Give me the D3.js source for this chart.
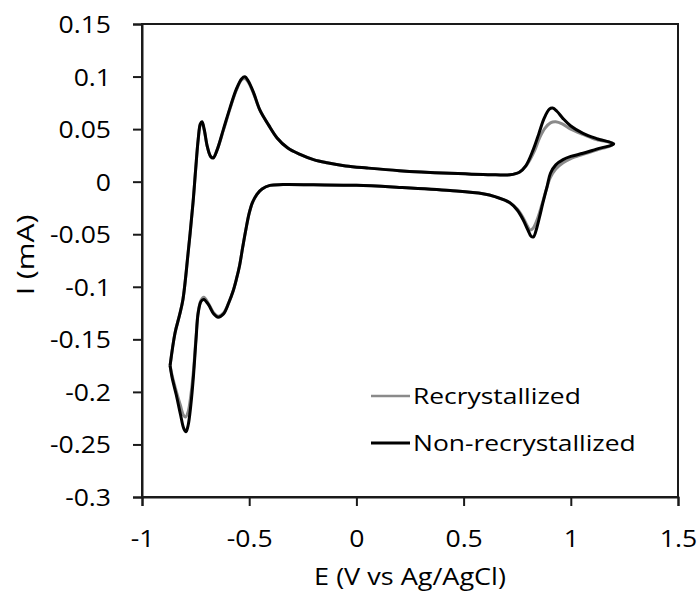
<!DOCTYPE html>
<html>
<head>
<meta charset="utf-8">
<script src="https://cdn.jsdelivr.net/npm/d3@7"></script>
<style>
  html, body { margin: 0; padding: 0; background: #fff; }
  svg { display: block; }
  text { font-family: "Open Sans", sans-serif; fill: #000; }
</style>
</head>
<body>
<svg id="chart" width="697" height="593"></svg>
<script>
// ---- data (E in V vs Ag/AgCl, I in mA), traced as closed CV loops ----
const seriesNames = ["Recrystallized", "Non-recrystallized"];
const xTicks = [-1, -0.5, 0, 0.5, 1, 1.5];
const yTicks = [0.15, 0.1, 0.05, 0, -0.05, -0.1, -0.15, -0.2, -0.25, -0.3];

const nonRecE = [
  -0.869, -0.846, -0.825, -0.809, -0.785, -0.762, -0.750, -0.738, -0.728, -0.720,
  -0.710, -0.695, -0.680, -0.668, -0.650, -0.620, -0.590, -0.560, -0.535, -0.520,
  -0.505, -0.480, -0.450, -0.410, -0.370, -0.320, -0.263, -0.200, -0.137, -0.050,
  0.050, 0.200, 0.437, 0.650, 0.716, 0.760, 0.790, 0.824, 0.850, 0.875,
  0.900, 0.915, 0.935, 0.964, 1.000, 1.057, 1.120, 1.200,
  1.120, 1.057, 1.000, 0.964, 0.930, 0.905, 0.889, 0.870, 0.856, 0.840,
  0.826, 0.815, 0.800, 0.777, 0.750, 0.716, 0.650, 0.590, 0.437, 0.200,
  0.000, -0.200, -0.342, -0.403, -0.440, -0.464, -0.485, -0.500, -0.515, -0.530,
  -0.545, -0.560, -0.575, -0.595, -0.620, -0.645, -0.665, -0.690, -0.712, -0.725,
  -0.738, -0.748, -0.760, -0.772, -0.785, -0.795, -0.805, -0.820, -0.840, -0.860,
  -0.869
];
const nonRecI = [
  -0.175, -0.144, -0.127, -0.112, -0.068, -0.020, 0.011, 0.040, 0.055, 0.057,
  0.050, 0.033, 0.024, 0.0225, 0.030, 0.050, 0.070, 0.088, 0.098, 0.0998,
  0.096, 0.085, 0.068, 0.054, 0.0416, 0.032, 0.026, 0.021, 0.018, 0.015,
  0.013, 0.0105, 0.008, 0.0065, 0.0066, 0.009, 0.015, 0.030, 0.045, 0.060,
  0.069, 0.070, 0.067, 0.060, 0.053, 0.046, 0.041, 0.036,
  0.031, 0.027, 0.024, 0.021, 0.016, 0.008, -0.005, -0.020, -0.032, -0.045,
  -0.0525, -0.052, -0.046, -0.036, -0.027, -0.020, -0.0145, -0.0115, -0.0085, -0.0055,
  -0.0035, -0.003, -0.0028, -0.0035, -0.007, -0.012, -0.020, -0.030, -0.045, -0.062,
  -0.080, -0.093, -0.104, -0.115, -0.126, -0.129, -0.126, -0.117, -0.112, -0.114,
  -0.125, -0.150, -0.185, -0.212, -0.232, -0.238, -0.235, -0.222, -0.203, -0.186,
  -0.175
];

const recE = [
  -0.869, -0.846, -0.825, -0.809, -0.785, -0.762, -0.750, -0.738, -0.728, -0.720,
  -0.710, -0.695, -0.680, -0.668, -0.650, -0.620, -0.590, -0.560, -0.535, -0.520,
  -0.505, -0.480, -0.450, -0.410, -0.370, -0.320, -0.263, -0.200, -0.137, -0.050,
  0.050, 0.200, 0.437, 0.650, 0.716, 0.760, 0.795, 0.830, 0.855, 0.880,
  0.905, 0.930, 0.960, 1.000, 1.057, 1.120, 1.200,
  1.120, 1.057, 1.000, 0.964, 0.930, 0.905, 0.885, 0.865, 0.845, 0.825,
  0.810, 0.797, 0.777, 0.750, 0.716, 0.650, 0.590, 0.437, 0.200,
  0.000, -0.200, -0.342, -0.403, -0.440, -0.464, -0.485, -0.500, -0.515, -0.530,
  -0.545, -0.560, -0.575, -0.595, -0.620, -0.645, -0.665, -0.690, -0.712, -0.725,
  -0.738, -0.748, -0.760, -0.772, -0.785, -0.797, -0.807, -0.822, -0.842, -0.860,
  -0.869
];
const recI = [
  -0.175, -0.144, -0.127, -0.112, -0.068, -0.020, 0.011, 0.040, 0.054, 0.056,
  0.049, 0.033, 0.024, 0.023, 0.030, 0.049, 0.069, 0.087, 0.097, 0.098,
  0.095, 0.084, 0.068, 0.054, 0.0416, 0.032, 0.026, 0.021, 0.018, 0.015,
  0.013, 0.0105, 0.008, 0.0065, 0.0066, 0.009, 0.016, 0.029, 0.042, 0.051,
  0.056, 0.057, 0.055, 0.050, 0.045, 0.040, 0.036,
  0.030, 0.026, 0.022, 0.018, 0.012, 0.004, -0.008, -0.022, -0.035, -0.044,
  -0.046, -0.042, -0.034, -0.026, -0.020, -0.0145, -0.0115, -0.0085, -0.0055,
  -0.0035, -0.003, -0.0028, -0.0035, -0.007, -0.012, -0.020, -0.030, -0.045, -0.062,
  -0.080, -0.093, -0.104, -0.115, -0.125, -0.128, -0.125, -0.116, -0.110, -0.113,
  -0.124, -0.148, -0.180, -0.203, -0.219, -0.224, -0.222, -0.212, -0.198, -0.184,
  -0.175
];

const seriesColors = ["#8a8a8a", "#000000"];

// ---- helpers ----
// widen text horizontally (reference font is slightly wider than Open Sans)
function widen(sel, k) {
  sel.each(function () {
    const w = this.getComputedTextLength();
    d3.select(this).attr("textLength", w * k).attr("lengthAdjust", "spacingAndGlyphs");
  });
}

// ---- layout ----
const svg = d3.select("#chart");
const mLeft = 142, mRight = 678, mTop = 24, mBottom = 497;

const x = d3.scaleLinear().domain([-1, 1.5]).range([mLeft, mRight]);
const y = d3.scaleLinear().domain([-0.3, 0.15]).range([mBottom, mTop]);

// frame
svg.append("rect")
  .attr("x", mLeft).attr("y", mTop)
  .attr("width", mRight - mLeft).attr("height", mBottom - mTop)
  .attr("fill", "none").attr("stroke", "#1a1a1a").attr("stroke-width", 2);

// axes
const xAxis = d3.axisBottom(x).tickValues(xTicks).tickSize(9).tickPadding(24)
  .tickFormat(d => String(d));
const yAxis = d3.axisLeft(y).tickValues(yTicks).tickSize(9).tickPadding(22)
  .tickFormat(d => String(d));

const gx = svg.append("g").attr("transform", `translate(0,${mBottom})`).call(xAxis);
const gy = svg.append("g").attr("transform", `translate(${mLeft},0)`).call(yAxis);
[gx, gy].forEach(g => {
  g.select(".domain").attr("stroke", "#1a1a1a").attr("stroke-width", 2);
  g.selectAll(".tick line").attr("stroke", "#1a1a1a").attr("stroke-width", 2);
  g.selectAll(".tick text").attr("font-family", "Open Sans, sans-serif")
    .attr("font-size", 23.5).attr("fill", "#000");
  widen(g.selectAll(".tick text"), 1.13);
});
gx.selectAll(".tick text").attr("dy", null).attr("y", 50);
gy.selectAll(".tick text").attr("dy", "0.36em");

// curves
const line = d3.line()
  .x(d => x(d[0])).y(d => y(d[1]))
  .curve(d3.curveCatmullRom.alpha(0.5));

const recData = recE.map((e, i) => [e, recI[i]]);
const nonRecData = nonRecE.map((e, i) => [e, nonRecI[i]]);

svg.append("path").datum(recData)
  .attr("d", line).attr("fill", "none")
  .attr("stroke", seriesColors[0]).attr("stroke-width", 3)
  .attr("stroke-linejoin", "round");
svg.append("path").datum(nonRecData)
  .attr("d", line).attr("fill", "none")
  .attr("stroke", seriesColors[1]).attr("stroke-width", 3)
  .attr("stroke-linejoin", "round");

// legend
const legendY = [396, 443];
seriesNames.forEach((name, i) => {
  svg.append("line")
    .attr("x1", 371).attr("x2", 410)
    .attr("y1", legendY[i]).attr("y2", legendY[i])
    .attr("stroke", seriesColors[i]).attr("stroke-width", i === 0 ? 2.5 : 3);
  const t = svg.append("text")
    .attr("x", 413).attr("y", legendY[i] + 8)
    .attr("font-size", 22)
    .text(name);
  widen(t, 1.2);
});

// axis titles
const xt = svg.append("text")
  .attr("x", (mLeft + mRight) / 2).attr("y", 585)
  .attr("text-anchor", "middle").attr("font-size", 23.5)
  .text("E (V vs Ag/AgCl)");
widen(xt, 1.15);
const yt = svg.append("text")
  .attr("transform", `translate(34,255) rotate(-90)`)
  .attr("text-anchor", "middle").attr("font-size", 24)
  .text("I (mA)");
widen(yt, 1.25);
</script>
</body>
</html>
